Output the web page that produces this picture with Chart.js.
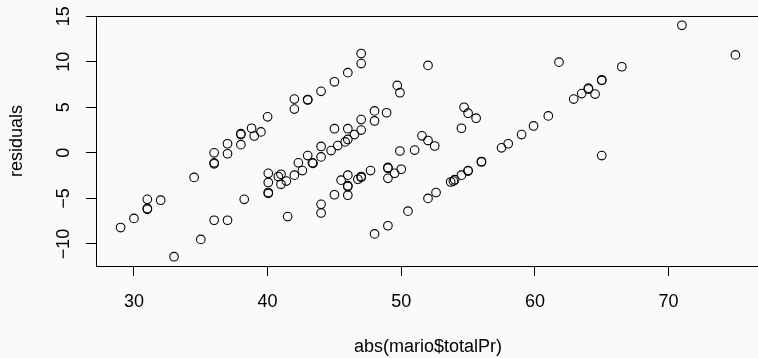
<!DOCTYPE html>
<html>
<head>
<meta charset="utf-8">
<script src="https://cdn.jsdelivr.net/npm/chart.js@4.4.1/dist/chart.umd.min.js"></script>
<style>
  html, body { margin: 0; padding: 0; background: #fafafa; overflow: hidden; }
  canvas { display: block; }
</style>
</head>
<body>
<canvas id="residual-plot" width="770" height="358"></canvas>
<script>
    // abs(mario$totalPr) vs residuals
    var totalPr = [
        29, 30, 31, 31, 31, 32, 34.5, 36, 36, 36, 37, 37, 38, 38, 38, 38.8, 39, 39.5, 40,
        42, 42, 43, 43, 44, 45, 46, 47, 47, 49.7, 49.9, 52,
        33, 35, 36, 37, 38.25, 40.05, 40.05, 40.05, 40.05, 40.8, 41, 41, 41.4, 41.5,
        42, 42.3, 42.6, 43, 43.35, 43.4, 44, 44, 44, 44, 44.75, 45, 45.25, 45.8, 46, 46,
        46.5, 47, 47, 48, 48, 48.9, 51.55, 52, 52.5, 49.9, 51, 54.5, 54.7, 55, 55.6,
        45, 45.5, 46, 46, 46, 46, 46.75, 47, 47, 47.7, 48, 49, 49, 49, 49, 49.5, 50,
        50.5, 52, 52.6, 53.7, 53.9, 54, 54.5, 55, 55, 56, 56, 57.5, 58, 59, 59.9, 61,
        61.8, 62.9, 63.5, 64, 64, 64.5, 65, 65, 65, 66.5, 71, 75
    ];
    var residuals = [
        -8.2, -7.2, -5.1, -6.1, -6.2, -5.2, -2.7, 0.0, -1.1, -1.2, 1.0, -0.1, 2.0, 2.1, 0.9, 2.7, 1.85, 2.3, 3.95,
        5.9, 4.8, 5.8, 5.85, 6.75, 7.8, 8.8, 10.9, 9.8, 7.4, 6.6, 9.6,
        -11.4, -9.5, -7.4, -7.4, -5.1, -2.25, -3.25, -4.35, -4.45, -2.6, -2.35, -3.45, -3.1, -7.0,
        -2.45, -1.1, -1.95, -0.3, -1.1, -1.15, 0.7, -0.45, -5.65, -6.6, 0.25, 2.65, 0.8, 1.2, 1.47, 2.65,
        2.0, 3.65, 2.5, 4.6, 3.5, 4.4, 1.87, 1.35, 0.75, 0.2, 0.3, 2.7, 5.0, 4.35, 3.8,
        -4.6, -3.0, -2.45, -3.6, -3.7, -4.65, -2.9, -2.6, -2.7, -1.95, -8.9, -1.6, -1.7, -2.8, -8.0, -2.25, -1.8,
        -6.4, -5.0, -4.35, -3.2, -3.1, -2.95, -2.45, -1.95, -2.0, -0.95, -1.0, 0.55, 1.0, 2.0, 2.95, 4.05,
        9.95, 5.9, 6.5, 7.0, 7.1, 6.45, 7.95, 8.0, -0.3, 9.45, 14.0, 10.75
    ];
    var xTicks = [30, 40, 50, 60, 70];
    var yTicks = [-10, -5, 0, 5, 10, 15];

    var fontFamily = '"Liberation Sans", Arial, Helvetica, sans-serif';
    var fontSize = 18;

    var points = totalPr.map(function(x, i) {
        return { x: x, y: residuals[i] };
    });

    // plot frame (R box())
    var boxPlugin = {
        id: 'boxPlugin',
        afterDraw: function(chart) {
            var a = chart.chartArea;
            var ctx = chart.ctx;
            ctx.save();
            ctx.strokeStyle = '#000';
            ctx.lineWidth = 1;
            ctx.strokeRect(Math.round(a.left) + 0.5, Math.round(a.top) + 0.5,
                Math.round(a.right - a.left), Math.round(a.bottom - a.top));
            ctx.restore();
        }
    };

    // y tick labels rotated like R (las = 0)
    var yLabelPlugin = {
        id: 'yLabelPlugin',
        afterDraw: function(chart) {
            var scale = chart.scales.y;
            var ctx = chart.ctx;
            ctx.save();
            ctx.fillStyle = '#000';
            ctx.font = fontSize + 'px ' + fontFamily;
            ctx.textAlign = 'center';
            ctx.textBaseline = 'alphabetic';
            scale.ticks.forEach(function(t) {
                var py = scale.getPixelForValue(t.value);
                ctx.save();
                ctx.translate(69, py);
                ctx.rotate(-Math.PI / 2);
                ctx.fillText(String(t.value).replace('-', '\u2212'), 0, 0);
                ctx.restore();
            });
            ctx.restore();
        }
    };

    var config = {
        type: 'scatter',
        data: {
            datasets: [{
                label: 'residuals',
                data: points,
                pointStyle: 'circle',
                pointRadius: 4.3,
                pointHoverRadius: 4.3,
                borderColor: '#000',
                borderWidth: 1.1,
                backgroundColor: 'rgba(0,0,0,0)'
            }]
        },
        options: {
            responsive: false,
            animation: false,
            devicePixelRatio: 1,
            layout: { padding: { left: 0, top: 16, right: 10, bottom: 0 } },
            plugins: {
                legend: { display: false },
                tooltip: { enabled: false }
            },
            scales: {
                x: {
                    type: 'linear',
                    min: 27.16,
                    max: 76.84,
                    afterBuildTicks: function(scale) {
                        scale.ticks = xTicks.map(function(v) { return { value: v }; });
                    },
                    afterFit: function(scale) { scale.height = 92; },
                    grid: { drawOnChartArea: false, drawTicks: true, tickLength: 10, color: '#000', lineWidth: 1 },
                    border: { display: true, color: '#000', width: 1 },
                    ticks: {
                        color: '#000',
                        padding: 15,
                        maxRotation: 0,
                        font: { family: fontFamily, size: fontSize }
                    },
                    title: {
                        display: true,
                        text: 'abs(mario$totalPr)',
                        color: '#000',
                        padding: { top: 0, bottom: 0 },
                        font: { family: fontFamily, size: fontSize }
                    }
                },
                y: {
                    type: 'linear',
                    min: -12.42,
                    max: 15.02,
                    afterBuildTicks: function(scale) {
                        scale.ticks = yTicks.map(function(v) { return { value: v }; });
                    },
                    afterFit: function(scale) { scale.width = 96; },
                    grid: { drawOnChartArea: false, drawTicks: true, tickLength: 10, color: '#000', lineWidth: 1 },
                    border: { display: true, color: '#000', width: 1 },
                    ticks: { display: false },
                    title: {
                        display: true,
                        text: 'residuals',
                        color: '#000',
                        padding: { top: 6, bottom: 0 },
                        font: { family: fontFamily, size: fontSize }
                    }
                }
            }
        },
        plugins: [boxPlugin, yLabelPlugin]
    };

    window.onload = function() {
        var ctx = document.getElementById('residual-plot').getContext('2d');
        window.residualChart = new Chart(ctx, config);
    };
</script>
</body>
</html>
